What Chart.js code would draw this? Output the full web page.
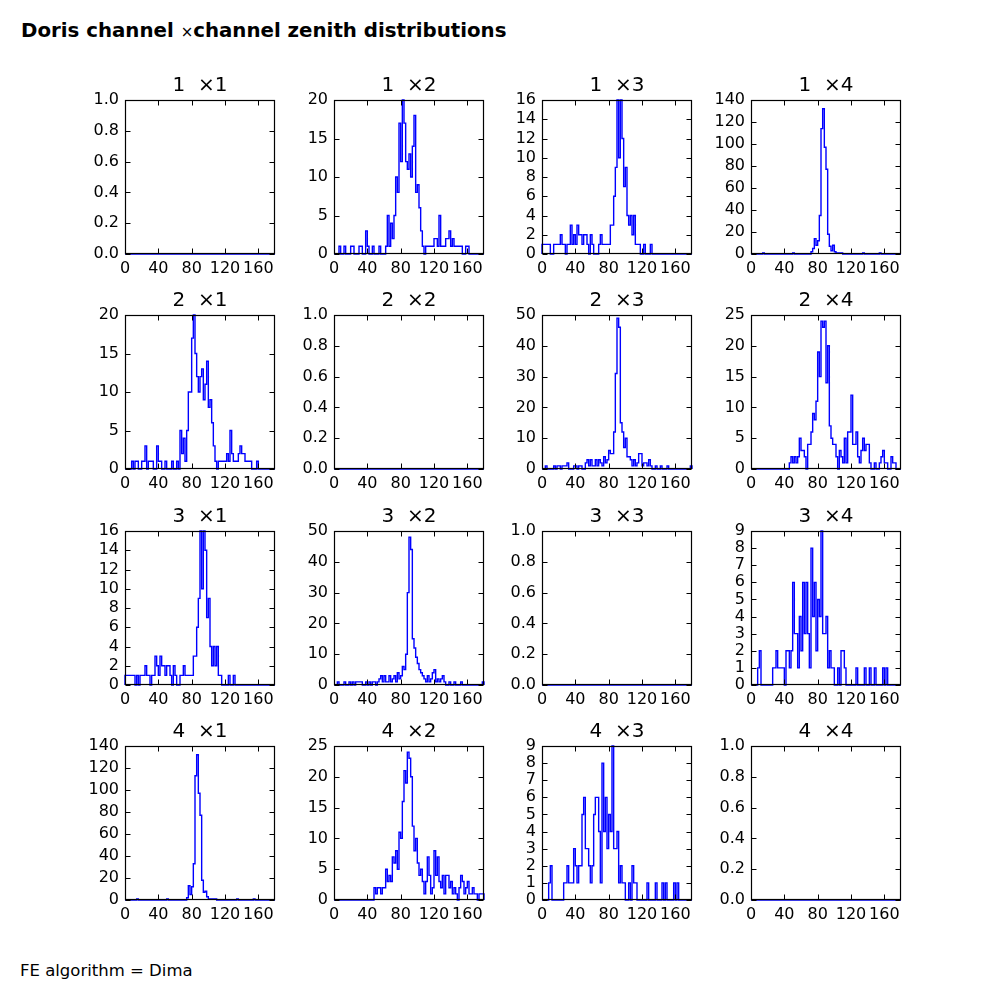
<!DOCTYPE html>
<html><head><meta charset="utf-8">
<script src="https://cdn.jsdelivr.net/npm/chart.js@4/dist/chart.umd.min.js"></script>
<style>
body{margin:0;background:#fff;width:1000px;height:1000px;position:relative;overflow:hidden;font-family:"DejaVu Sans";}
#suptitle{position:absolute;left:21px;top:19px;font-weight:bold;font-size:19.8px;white-space:pre;line-height:24px;}
#suptitle .x{font-weight:normal;font-size:15px;}
#footer{position:absolute;left:20px;top:961px;font-size:16.5px;white-space:pre;line-height:20px;}
canvas{position:absolute;}
</style></head><body>
<div id="suptitle">Doris channel <span class="x">×</span>channel zenith distributions</div>
<div id="footer">FE algorithm = Dima</div>
<script>
const channels = [1, 2, 3, 4];
const binWidth = 2;            // degrees per histogram bin, bins start at 0
const xRange = [0, 180];
const xTicks = [0, 40, 80, 120, 160];

const yTicksUnit = [0, 0.2, 0.4, 0.6, 0.8, 1.0];
const yTicks9 = [0, 1, 2, 3, 4, 5, 6, 7, 8, 9];
const yTicks16 = [0, 2, 4, 6, 8, 10, 12, 14, 16];
const yTicks20 = [0, 5, 10, 15, 20];
const yTicks25 = [0, 5, 10, 15, 20, 25];
const yTicks50 = [0, 10, 20, 30, 40, 50];
const yTicks140 = [0, 20, 40, 60, 80, 100, 120, 140];

// histogram counts, 2-degree bins from 0 to 180 (10 bins per line)
const countsDiag = [
  0,0,0,0,0,0,0,0,0,0, 0,0,0,0,0,0,0,0,0,0, 0,0,0,0,0,0,0,0,0,0,
  0,0,0,0,0,0,0,0,0,0, 0,0,0,0,0,0,0,0,0,0, 0,0,0,0,0,0,0,0,0,0,
  0,0,0,0,0,0,0,0,0,0, 0,0,0,0,0,0,0,0,0,0, 0,0,0,0,0,0,0,0,0,0];

const counts12 = [
  0,0,0,1,0,0,1,0,0,0,
  1,1,0,0,0,1,1,0,0,3,
  1,0,0,1,0,0,0,1,0,0,
  0,1,5,1,4,2,5,10,8,17,
  12,20,17,12,11,13,10,14,18,8,
  9,6,3,1,0,1,1,1,1,1,
  2,2,1,5,1,1,1,2,2,3,
  1,2,1,1,1,1,1,0,0,1,
  1,0,0,0,0,0,0,0,0,0];

const counts13 = [
  1,1,1,1,1,0,0,1,1,1,
  1,2,1,1,0,1,1,3,1,2,
  1,3,2,2,1,2,2,1,0,2,
  1,0,0,0,1,2,1,1,1,1,
  1,3,3,6,9,16,10,16,12,7,
  9,4,3,4,2,4,1,1,1,0,
  0,1,0,0,0,1,0,0,0,0,
  0,0,0,0,0,0,0,0,0,0,
  0,0,0,0,0,0,0,0,0,0];

const counts14 = [
  0,0,0,0,0,0,0,1,0,0,
  0,0,0,0,0,0,0,0,0,0,
  0,0,0,0,0,1,0,0,0,0,
  0,0,0,0,0,0,2,5,14,8,
  12,35,114,132,97,77,18,7,3,8,
  2,1,1,1,1,0,0,0,0,0,
  0,0,0,0,0,0,0,1,0,0,
  0,0,0,0,0,0,0,1,0,0,
  0,0,0,0,0,0,0,0,0,0];

const counts21 = [
  0,0,0,0,1,0,1,1,0,0,
  1,1,3,0,1,1,1,0,0,3,
  1,1,0,0,1,0,0,0,1,0,
  0,1,0,5,2,4,1,5,10,10,
  17,20,15,12,10,12,13,9,11,14,
  8,9,6,3,1,0,1,1,1,1,
  1,2,1,5,2,1,1,1,2,3,
  2,2,1,1,1,1,0,0,0,1,
  0,0,0,0,0,0,0,0,0,0];

const counts23 = [
  0,0,1,0,0,0,0,1,0,1,
  1,0,1,1,1,2,0,0,0,1,
  1,0,1,1,0,0,2,3,1,3,
  1,1,3,1,3,2,1,4,2,3,
  6,5,5,12,31,49,46,15,12,7,
  10,4,4,3,1,3,1,2,5,5,
  1,2,2,1,3,1,0,0,1,0,
  0,1,0,0,0,1,0,0,0,0,
  0,0,0,0,0,0,0,0,0,1];

const counts24 = [
  0,0,0,0,0,0,0,0,0,0,
  0,0,0,0,0,0,0,0,0,0,
  0,0,0,1,2,1,2,1,2,5,
  3,3,2,0,4,4,6,9,8,11,
  19,15,24,23,24,14,20,7,5,4,
  4,2,0,3,2,1,5,1,6,6,
  12,4,4,6,2,1,3,5,3,4,
  4,1,0,0,1,0,0,1,2,3,
  1,1,0,0,2,1,1,0,0,0];

const counts31 = [
  1,1,1,1,1,1,0,1,0,1,
  1,1,2,1,1,0,1,1,3,2,
  1,3,2,2,1,2,2,1,0,2,
  1,0,0,1,1,2,1,1,1,1,
  1,3,3,6,9,16,10,16,14,7,
  9,4,2,4,2,4,1,1,0,0,
  0,0,1,0,0,1,0,0,0,0,
  0,0,0,0,0,0,0,0,0,0,
  0,0,0,0,0,0,0,0,0,0];

const counts32 = [
  0,0,1,0,0,0,1,0,0,1,
  0,1,0,1,1,1,1,0,0,1,
  0,1,0,1,1,0,1,2,3,1,
  3,1,1,3,1,2,3,1,4,2,
  3,6,5,10,30,48,44,15,12,9,
  7,5,4,3,2,1,3,1,2,4,
  5,1,2,1,2,3,1,0,0,1,
  0,0,1,0,0,0,1,0,0,0,
  0,0,0,0,0,0,0,0,0,1];

const counts34 = [
  0,0,0,0,1,2,0,0,0,0,
  0,0,0,1,1,2,1,1,1,1,
  0,2,2,1,2,6,3,3,1,4,
  2,6,3,6,3,1,8,4,6,2,
  5,4,9,3,3,4,1,2,1,1,
  0,0,1,0,2,2,1,0,0,0,
  0,0,0,1,0,0,0,0,1,0,
  0,1,0,0,1,0,0,0,0,1,
  0,1,0,0,0,0,0,0,0,0];

const counts41 = [
  0,0,0,0,0,0,0,1,0,0,
  0,0,0,0,0,0,0,0,0,0,
  0,0,0,0,0,1,0,0,0,0,
  0,0,0,0,0,0,0,2,13,5,
  12,33,113,132,97,77,18,7,8,3,
  1,1,1,1,1,0,0,0,0,0,
  0,0,0,0,0,0,0,1,0,0,
  0,0,0,0,0,0,0,1,0,0,
  0,0,0,0,0,0,0,0,0,0];

const counts42 = [
  0,0,0,0,0,0,0,0,0,0,
  0,0,0,0,0,0,0,0,0,0,
  0,0,0,0,2,1,2,2,1,2,
  2,5,3,4,3,7,6,8,5,11,
  10,16,21,19,24,23,20,12,8,10,
  6,4,5,3,1,3,7,4,1,2,
  8,4,7,3,2,4,1,4,4,2,
  3,1,2,1,0,2,4,3,1,2,
  3,1,1,2,1,1,0,1,1,1];

const counts43 = [
  0,0,0,0,1,2,0,0,0,0,
  0,0,0,1,1,2,1,1,1,3,
  2,1,2,2,5,6,3,3,2,1,
  2,5,6,6,4,1,8,4,6,3,
  5,4,9,3,3,4,1,2,1,1,
  0,0,1,0,2,1,1,0,0,0,
  0,0,0,1,0,0,0,0,1,0,
  0,0,1,0,1,0,0,0,0,1,
  0,1,0,0,0,0,0,0,0,0];

// grid of panels: [row][col] -> counts and y ticks
const panelCounts = [
  [countsDiag, counts12, counts13, counts14],
  [counts21, countsDiag, counts23, counts24],
  [counts31, counts32, countsDiag, counts34],
  [counts41, counts42, counts43, countsDiag]];
const panelYTicks = [
  [yTicksUnit, yTicks20, yTicks16, yTicks140],
  [yTicks20, yTicksUnit, yTicks50, yTicks25],
  [yTicks16, yTicks50, yTicksUnit, yTicks9],
  [yTicks140, yTicks25, yTicks9, yTicksUnit]];

// ---- layout (matplotlib-like subplot grid) ----
const FIG_L = 125, FIG_T = 100, AX_W = 149.04, AX_H = 153.85, GAP_X = 0.4 * 149.04, GAP_Y = 0.4 * 153.85;
const SIDE = 56, TITLE_H = 30, XAX_H = 30;
const FONT = "'DejaVu Sans', sans-serif";

const frameAndTicks = {
  id: 'frameAndTicks',
  afterDatasetsDraw(chart, args, opts) {
    const {ctx, chartArea: a, scales: {x, y}} = chart;
    const L = Math.round(a.left) + 0.5, R = Math.round(a.right) - 0.5;
    const T = Math.round(a.top) + 0.5, B = Math.round(a.bottom) - 0.5;
    ctx.save();
    ctx.strokeStyle = '#000';
    ctx.lineWidth = 1;
    ctx.beginPath();
    const len = 5;
    for (const v of opts.xt) {
      const px = Math.round(x.getPixelForValue(v)) + 0.5;
      ctx.moveTo(px, B); ctx.lineTo(px, B - len);
      ctx.moveTo(px, T); ctx.lineTo(px, T + len);
    }
    for (const v of opts.yt) {
      const py = Math.round(y.getPixelForValue(v)) + 0.5;
      ctx.moveTo(L, py); ctx.lineTo(L + len, py);
      ctx.moveTo(R, py); ctx.lineTo(R - len, py);
    }
    ctx.stroke();
    ctx.lineWidth = 1.2;
    ctx.strokeRect(L, T, R - L, B - T);
    ctx.restore();
  }
};

channels.forEach((rc, r) => {
  channels.forEach((cc, c) => {
    const counts = panelCounts[r][c];
    const yt = panelYTicks[r][c];
    const pts = [{x: xRange[0], y: 0}];
    counts.forEach((v, i) => pts.push({x: xRange[0] + i * binWidth, y: v}));
    pts.push({x: xRange[1], y: counts[counts.length - 1]});
    pts.push({x: xRange[1], y: 0});

    const axL = Math.round(FIG_L + c * (AX_W + GAP_X));
    const axT = Math.round(FIG_T + r * (AX_H + GAP_Y));
    const cv = document.createElement('canvas');
    cv.width = SIDE + 150 + SIDE;
    cv.height = TITLE_H + 154 + XAX_H;
    cv.style.left = (axL - SIDE) + 'px';
    cv.style.top = (axT - TITLE_H) + 'px';
    document.body.appendChild(cv);
    const frac = yt[yt.length - 1] <= 1;

    new Chart(cv, {
      type: 'line',
      data: {datasets: [{
        data: pts, borderColor: '#0000ff', borderWidth: 1.4, pointRadius: 0,
        stepped: true, fill: false, tension: 0, clip: 2
      }]},
      options: {
        responsive: false, animation: false, events: [],
        layout: {padding: 0},
        plugins: {
          legend: {display: false}, tooltip: {enabled: false},
          title: {display: true, text: rc + '  \u00d7' + cc, color: '#000',
                  font: {family: FONT, size: 20, weight: 'normal', lineHeight: '24px'},
                  padding: {top: 4, bottom: 2}},
          frameAndTicks: {xt: xTicks, yt: yt}
        },
        scales: {
          x: {type: 'linear', min: xRange[0], max: xRange[1],
              grid: {display: false, drawTicks: false}, border: {display: false},
              afterBuildTicks: s => { s.ticks = xTicks.map(v => ({value: v})); },
              afterFit: s => { s.height = XAX_H; },
              ticks: {padding: 5, maxRotation: 0, autoSkip: false, color: '#000',
                      font: {family: FONT, size: 16}}},
          y: {type: 'linear', min: 0, max: yt[yt.length - 1],
              grid: {display: false, drawTicks: false}, border: {display: false},
              afterBuildTicks: s => { s.ticks = yt.map(v => ({value: v})); },
              afterFit: s => { s.width = SIDE; },
              ticks: {padding: 6, autoSkip: false, color: '#000',
                      font: {family: FONT, size: 16},
                      callback: v => frac ? Number(v).toFixed(1) : String(v)}},
          yRight: {type: 'linear', position: 'right', display: true,
              grid: {display: false, drawTicks: false}, border: {display: false},
              ticks: {display: false},
              afterFit: s => { s.width = SIDE; }}
        }
      },
      plugins: [frameAndTicks]
    });
  });
});
</script>
</body></html>
